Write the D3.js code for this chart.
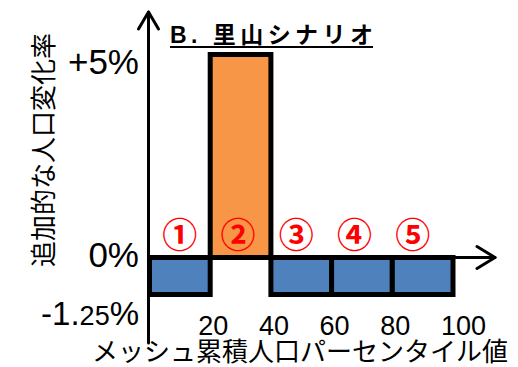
<!DOCTYPE html>
<html>
<head>
<meta charset="utf-8">
<script src="https://cdn.jsdelivr.net/npm/d3@7"></script>
<style>
  html, body { margin: 0; padding: 0; background: #fff; }
  svg { display: block; }
</style>
</head>
<body>
<svg id="chart" width="518" height="367"></svg>
<script>
// Percentile bins (start of each 20-point bin) and the additional change rate (%)
const binStarts = [0, 20, 40, 60, 80];
const binWidth = 20;
const binLabels = ["①", "②", "③", "④", "⑤"];
const changeRates = [-1.25, 5, -1.25, -1.25, -1.25];

const xTickValues = [20, 40, 60, 80, 100];
const yTickValues = [5, 0, -1.25];
const yTickLabels = ["+5%", "0%", "-1.25%"];

const title = "B. 里山シナリオ";
const yTitle = "追加的な人口変化率";
const xTitle = "メッシュ累積人口パーセンタイル値";

const latin = "'Liberation Sans', Arial, 'Noto Sans CJK JP', sans-serif";
const cjk = "'Noto Sans CJK JP', 'Liberation Sans', sans-serif";

const svg = d3.select("#chart");

// Schematic axis: the negative side is drawn compressed relative to the positive side
const x = d3.scaleLinear().domain([0, 100]).range([149.5, 453]);
const y = d3.scaleLinear().domain([-1.25, 0, 5]).range([294.5, 257.5, 54.5]);

const fillFor = v => v > 0 ? "#F79646" : "#4F81BD";

// Bars
svg.append("g").selectAll("rect")
  .data(binStarts.map((s, i) => ({ s, v: changeRates[i] })))
  .join("rect")
  .attr("x", d => x(d.s))
  .attr("width", d => x(d.s + binWidth) - x(d.s))
  .attr("y", d => y(Math.max(0, d.v)))
  .attr("height", d => Math.abs(y(d.v) - y(0)))
  .attr("fill", d => fillFor(d.v))
  .attr("stroke", "#000")
  .attr("stroke-width", 5)
  .attr("stroke-linejoin", "miter");

// Axes with open arrowheads
const axes = svg.append("g").attr("stroke", "#000").attr("fill", "none")
  .attr("stroke-width", 3).attr("stroke-linecap", "round").attr("stroke-linejoin", "round");
const x0 = x(0) - 1, yTop = 12, yBottom = 343, xRight = 495;
axes.append("line").attr("x1", x0).attr("x2", x0).attr("y1", yBottom).attr("y2", yTop);
axes.append("path").attr("d", `M${x0 - 10},${yTop + 17}L${x0},${yTop}L${x0 + 10},${yTop + 17}`);
axes.append("line").attr("x1", x0).attr("x2", xRight).attr("y1", y(0)).attr("y2", y(0));
axes.append("path").attr("d", `M${xRight - 18},${y(0) - 11}L${xRight},${y(0)}L${xRight - 18},${y(0) + 11}`);

// Y tick labels
const yLabelShift = [19.5, 9.5, 30.5];
const yLabels = svg.append("g").attr("font-family", latin).attr("font-size", 35)
  .attr("text-anchor", "end").attr("fill", "#000");
yTickValues.forEach((v, i) => {
  const t = yLabels.append("text").attr("x", 139).attr("y", y(v) + yLabelShift[i]);
  const lab = yTickLabels[i];
  const m = lab.match(/^(-?\d+\.)(\d+)(%)$/);
  if (m) {
    t.append("tspan").attr("font-size", 33).text(m[1]);
    t.append("tspan").attr("font-size", 27).text(m[2]);
    t.append("tspan").attr("font-size", 33).text(m[3]);
  } else {
    t.text(lab);
  }
});

// X tick labels
svg.append("g").attr("font-family", latin).attr("font-size", 27).attr("fill", "#000")
  .selectAll("text").data(xTickValues).join("text")
  .attr("x", d => x(d) - 12).attr("y", 335)
  .text(d => d);

// Bin number labels
svg.append("g").attr("font-family", cjk).attr("font-size", 35).attr("font-weight", "bold")
  .attr("fill", "#FF0000").attr("text-anchor", "middle").attr("dominant-baseline", "central")
  .selectAll("text").data(binStarts).join("text")
  .attr("x", (d, i) => x(d + binWidth / 2) - i * 2.5)
  .attr("y", 232)
  .text((d, i) => binLabels[i]);

// Title with underline
svg.append("text").attr("x", 170).attr("y", 43)
  .attr("font-family", latin).attr("font-size", 23).attr("font-weight", "bold")
  .attr("textLength", 203).attr("lengthAdjust", "spacing")
  .text(title);
svg.append("line").attr("x1", 170).attr("x2", 373).attr("y1", 47).attr("y2", 47)
  .attr("stroke", "#000").attr("stroke-width", 2);

// Axis titles
svg.append("text").attr("x", 92).attr("y", 361)
  .attr("font-family", cjk).attr("font-size", 26)
  .attr("textLength", 416).attr("lengthAdjust", "spacing")
  .text(xTitle);
svg.append("text")
  .attr("transform", "translate(41,150) rotate(-90)")
  .attr("text-anchor", "middle").attr("dominant-baseline", "central")
  .attr("font-family", cjk).attr("font-size", 26)
  .text(yTitle);
</script>
</body>
</html>
